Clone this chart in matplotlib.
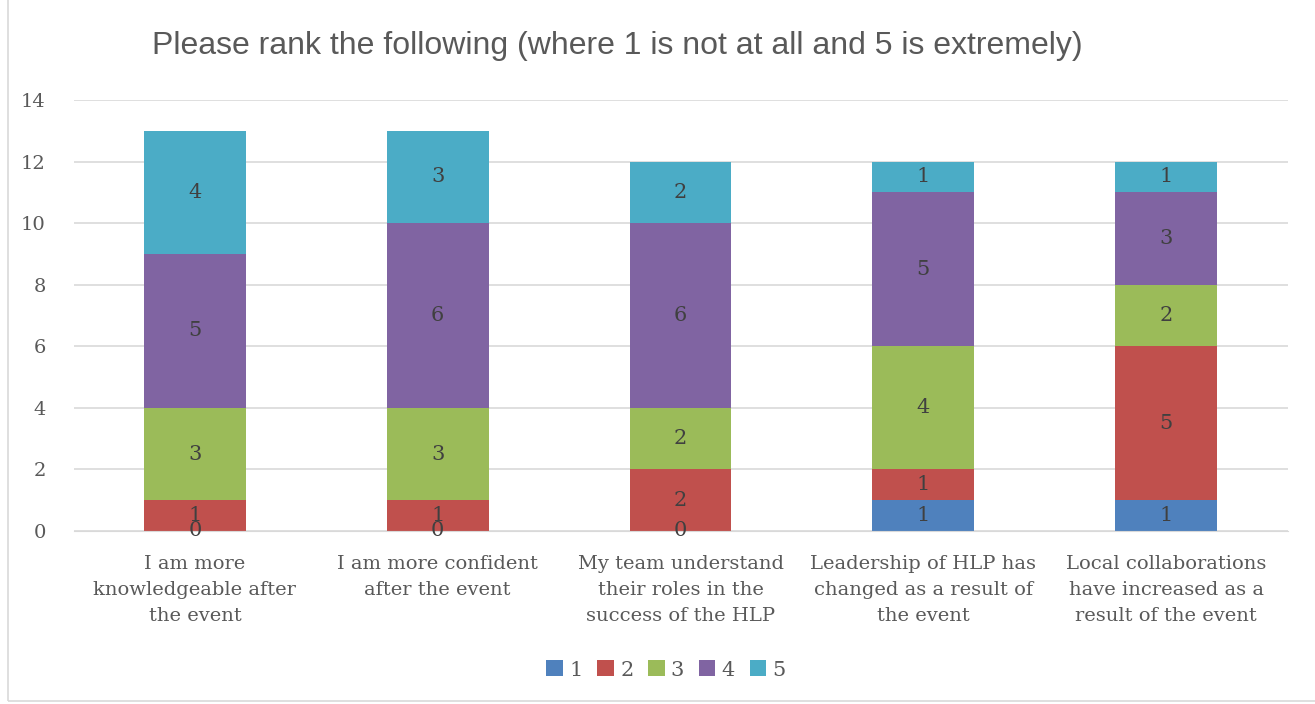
import matplotlib.pyplot as plt
from matplotlib.patches import Rectangle

categories = [
    "I am more\nknowledgeable after\nthe event",
    "I am more confident\nafter the event",
    "My team understand\ntheir roles in the\nsuccess of the HLP",
    "Leadership of HLP has\nchanged as a result of\nthe event",
    "Local collaborations\nhave increased as a\nresult of the event",
]
series_names = ["1", "2", "3", "4", "5"]
s1 = [0, 0, 0, 1, 1]
s2 = [1, 1, 2, 1, 5]
s3 = [3, 3, 2, 4, 2]
s4 = [5, 6, 6, 5, 3]
s5 = [4, 3, 2, 1, 1]
colors = ["#4F81BD", "#C0504D", "#9BBB59", "#8064A2", "#4BACC6"]

TXT = "#595959"
SERIF = ["DejaVu Serif"]
FS = 14

fig = plt.figure(figsize=(13.15, 7.04), dpi=100)
# chart area border (only left and bottom edges visible)
fig.patches.append(Rectangle((8 / 1315, 3 / 704), 1.2, 1.2, transform=fig.transFigure,
                             fill=False, edgecolor="#D9D9D9", linewidth=1.2))
ax = fig.add_axes([73.5 / 1315, 173 / 704, 1214 / 1315, 431 / 704])

x = range(len(categories))
bottom = [0] * len(categories)
for name, vals, c in zip(series_names, [s1, s2, s3, s4, s5], colors):
    bars = ax.bar(x, vals, bottom=bottom, width=0.42, color=c, label=name, zorder=2)
    ax.bar_label(bars, label_type="center", color="#404040", fontsize=FS + 1, family=SERIF)
    bottom = [b + v for b, v in zip(bottom, vals)]

ax.set_xlim(-0.5, 4.5)
ax.set_ylim(0, 14)
ax.set_yticks(range(0, 15, 2))
ax.yaxis.grid(True, color="#D9D9D9", linewidth=1.2, zorder=0)
ax.set_axisbelow(True)
for sp in ax.spines.values():
    sp.set_visible(False)
ax.spines["bottom"].set_visible(True)
ax.spines["bottom"].set_color("#D9D9D9")
ax.tick_params(length=0, colors=TXT, labelsize=FS)
ax.tick_params(axis="y", pad=20)
ax.tick_params(axis="x", pad=17)
ax.set_xticks(list(x))
ax.set_xticklabels(categories, family=SERIF, linespacing=1.6)
for t in ax.get_yticklabels():
    t.set_family(SERIF)

fig.text(617 / 1315, 1 - 46 / 704, "Please rank the following (where 1 is not at all and 5 is extremely)",
         ha="center", va="center", fontsize=23, color=TXT, family="Liberation Sans")

leg = fig.legend(loc="center", bbox_to_anchor=(666 / 1315, 34 / 704), ncol=5, frameon=False,
                 prop={"family": SERIF, "size": FS + 1}, handlelength=0.8, handleheight=0.8,
                 handletextpad=0.3, columnspacing=0.7)
for t in leg.get_texts():
    t.set_color(TXT)

fig.savefig("out.png", dpi=100)
